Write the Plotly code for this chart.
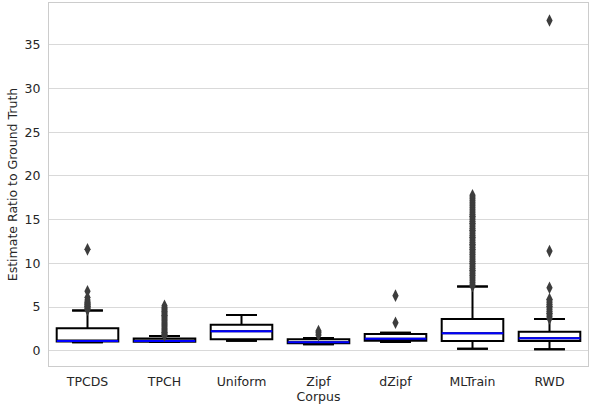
import plotly.graph_objects as go

categories = ["TPCDS", "TPCH", "Uniform", "Zipf", "dZipf", "MLTrain", "RWD"]
q1 = [1.05, 1.02, 1.31, 0.84, 1.15, 1.11, 1.11]
median = [1.12, 1.12, 2.22, 0.96, 1.38, 1.99, 1.42]
q3 = [2.57, 1.40, 2.98, 1.31, 1.90, 3.63, 2.18]
lower_fence = [0.96, 1.00, 1.15, 0.74, 1.00, 0.23, 0.16]
upper_fence = [4.59, 1.69, 4.09, 1.46, 2.07, 7.34, 3.63]

out_tpcds = [4.7, 4.8, 4.9, 5.0, 5.1, 5.2, 5.3, 5.4, 5.5, 5.6, 5.8, 6.1, 6.8, 11.6]
out_tpch = [1.75, 1.85, 1.95, 2.1, 2.25, 2.4, 2.55, 2.7, 2.85, 3.0, 3.15, 3.3,
            3.45, 3.6, 3.75, 3.9, 4.05, 4.2, 4.35, 4.5, 4.65, 4.8, 4.95, 5.15]
out_uniform = []
out_zipf = [1.8, 2.05, 2.25]
out_dzipf = [3.2, 6.3]
out_mltrain = [7.4, 7.6, 7.8, 8.0, 8.2, 8.4, 8.6, 8.8, 9.0, 9.2, 9.4, 9.6, 9.8,
               10.0, 10.2, 10.4, 10.6, 10.8, 11.0, 11.2, 11.4, 11.6, 11.8, 12.0,
               12.2, 12.4, 12.6, 12.8, 13.0, 13.2, 13.4, 13.6, 13.8, 14.0, 14.2,
               14.4, 14.6, 14.8, 15.0, 15.2, 15.4, 15.6, 15.8, 16.0, 16.2, 16.4,
               16.6, 16.8, 17.0, 17.2, 17.4, 17.6, 17.8]
out_rwd = [3.7, 3.9, 4.1, 4.3, 4.5, 4.7, 4.9, 5.1, 5.3, 5.5, 5.7, 5.9, 7.2, 11.4, 37.8]

y_ticks = [0, 5, 10, 15, 20, 25, 30, 35]

outliers = [out_tpcds, out_tpch, out_uniform, out_zipf, out_dzipf, out_mltrain, out_rwd]

FONT = "DejaVu Sans"
TXT = "#262626"

fig = go.Figure()

# main boxes
fig.add_trace(go.Box(
    x=categories, q1=q1, median=median, q3=q3,
    lowerfence=lower_fence, upperfence=upper_fence,
    width=0.8, fillcolor="white", line=dict(color="black", width=2),
    boxpoints=False, showlegend=False, hoverinfo="skip"))

# whisker caps (zero-height boxes at fences)
for fence in (upper_fence, lower_fence):
    fig.add_trace(go.Box(
        x=categories, q1=fence, median=fence, q3=fence,
        lowerfence=fence, upperfence=fence,
        width=0.4, fillcolor="black", line=dict(color="black", width=2),
        boxpoints=False, showlegend=False, hoverinfo="skip"))

# median lines in blue
fig.add_trace(go.Box(
    x=categories, q1=median, median=median, q3=median,
    lowerfence=median, upperfence=median,
    width=0.8, fillcolor="blue", line=dict(color="blue", width=2),
    boxpoints=False, showlegend=False, hoverinfo="skip"))

# outliers
ox, oy = [], []
for cat, vals in zip(categories, outliers):
    for v in vals:
        ox.append(cat)
        oy.append(v)
fig.add_trace(go.Scatter(
    x=ox, y=oy, mode="markers",
    marker=dict(symbol="diamond-tall", size=9, color="#3d3d3d",
                line=dict(width=0)),
    showlegend=False, hoverinfo="skip"))

fig.update_layout(
    width=589, height=405,
    margin=dict(l=49, r=1, t=3, b=39),
    plot_bgcolor="white", paper_bgcolor="white",
    font=dict(family=FONT, size=12.5, color=TXT),
    boxmode="overlay",
    xaxis=dict(
        categoryorder="array", categoryarray=categories,
        range=[-0.5, 6.5],
        showgrid=False, zeroline=False,
        showline=True, mirror=True, linecolor="#cccccc", linewidth=1,
        ticks="", tickfont=dict(size=12.5, color=TXT), ticklabelstandoff=4,
        title=dict(text="Corpus", font=dict(size=12.5, color=TXT), standoff=3),
    ),
    yaxis=dict(
        range=[-1.75, 39.8],
        tickvals=y_ticks,
        showgrid=True, gridcolor="#d9d9d9", gridwidth=1,
        zeroline=False,
        showline=True, mirror=True, linecolor="#cccccc", linewidth=1,
        ticks="", tickfont=dict(size=12.5, color=TXT), ticklabelstandoff=5,
        title=dict(text="Estimate Ratio to Ground Truth", font=dict(size=12.5, color=TXT), standoff=4),
    ),
)

fig.write_html("out.html", config={"displayModeBar": False},
               post_script="document.body.style.margin='0';")
